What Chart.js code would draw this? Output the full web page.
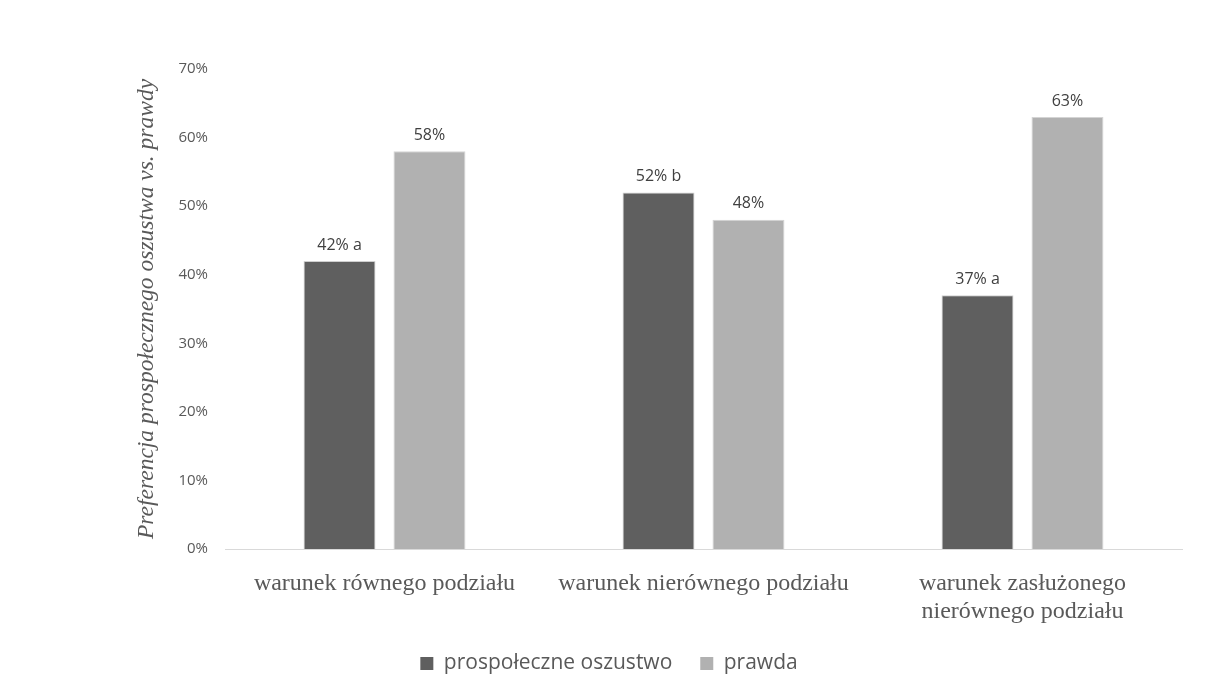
<!DOCTYPE html>
<html>
<head>
<meta charset="utf-8">
<script src="https://cdn.jsdelivr.net/npm/chart.js@4/dist/chart.umd.min.js"></script>
<style>
  html, body { margin: 0; padding: 0; background: #fff; }
  #wrap { width: 1207px; height: 695px; position: relative; }
</style>
</head>
<body>
<div id="wrap"><canvas id="chart"></canvas></div>
<script>
// categories (third one wraps onto two lines)
const categories = [
  'warunek równego podziału',
  'warunek nierównego podziału',
  ['warunek zasłużonego', 'nierównego podziału']
];
const seriesNames = ['prospołeczne oszustwo', 'prawda'];
const oszustwo = [42, 52, 37];
const prawda = [58, 48, 63];
const oszustwoLabels = ['42% a', '52% b', '37% a'];
const prawdaLabels = ['58%', '48%', '63%'];
const yTicksMax = 70;
const yStep = 10;

const DARK = '#5f5f5f';
const LIGHT = '#b1b1b1';
const TEXT = '#595959';

// draws the text above each bar (no datalabels plugin offline)
const barLabels = {
  id: 'barLabels',
  afterDatasetsDraw(chart) {
    const ctx = chart.ctx;
    const labelSets = [oszustwoLabels, prawdaLabels];
    ctx.save();
    ctx.font = '16px "Open Sans", sans-serif';
    ctx.fillStyle = '#404040';
    ctx.textAlign = 'center';
    ctx.textBaseline = 'bottom';
    chart.data.datasets.forEach((ds, di) => {
      chart.getDatasetMeta(di).data.forEach((bar, i) => {
        ctx.fillText(labelSets[di][i], bar.x, bar.y - 8);
      });
    });
    ctx.restore();
  }
};

new Chart(document.getElementById('chart'), {
  type: 'bar',
  data: {
    labels: categories,
    datasets: [
      { label: seriesNames[0], data: oszustwo, backgroundColor: DARK, borderColor: '#cfcfcf', borderWidth: 1 },
      { label: seriesNames[1], data: prawda, backgroundColor: LIGHT, borderColor: '#d4d4d4', borderWidth: 1 }
    ]
  },
  options: {
    responsive: true,
    maintainAspectRatio: false,
    animation: false,
    categoryPercentage: 0.564,
    barPercentage: 0.8,
    // left padding kept small so the legend centres where the original does
    layout: { padding: { top: 69, left: 36, right: 25, bottom: 11 } },
    plugins: {
      tooltip: { enabled: false },
      legend: {
        position: 'bottom',
        labels: {
          color: TEXT,
          font: { family: '"Open Sans", sans-serif', size: 21 },
          boxWidth: 13,
          boxHeight: 13,
          padding: 28,
          generateLabels(chart) {
            return chart.data.datasets.map((ds, i) => ({
              text: ds.label,
              fillStyle: ds.backgroundColor,
              strokeStyle: ds.backgroundColor,
              lineWidth: 0,
              datasetIndex: i,
              fontColor: TEXT
            }));
          }
        }
      }
    },
    scales: {
      x: {
        grid: { display: false, drawTicks: false },
        border: { display: true, color: '#d9d9d9', width: 1 },
        ticks: {
          color: TEXT,
          padding: 21,
          maxRotation: 0,
          autoSkip: false,
          font: { family: '"Liberation Serif", "Times New Roman", serif', size: 24, lineHeight: 1.1667 }
        },
        afterFit(scale) { scale.height = 76; }
      },
      y: {
        min: 0,
        max: yTicksMax,
        grid: { display: false, drawTicks: false },
        border: { display: false },
        ticks: {
          stepSize: yStep,
          color: TEXT,
          padding: 17,
          font: { family: '"Open Sans", sans-serif', size: 15 },
          callback: (value) => value + '%'
        },
        title: {
          display: true,
          text: 'Preferencja prospołecznego oszustwa vs. prawdy',
          color: TEXT,
          padding: { top: 97, bottom: 4 },
          font: { family: '"Liberation Serif", "Times New Roman", serif', size: 23.5, style: 'italic', lineHeight: 1.2 }
        },
        afterFit(scale) { scale.width = 189; }
      }
    }
  },
  plugins: [barLabels]
});
</script>
</body>
</html>
